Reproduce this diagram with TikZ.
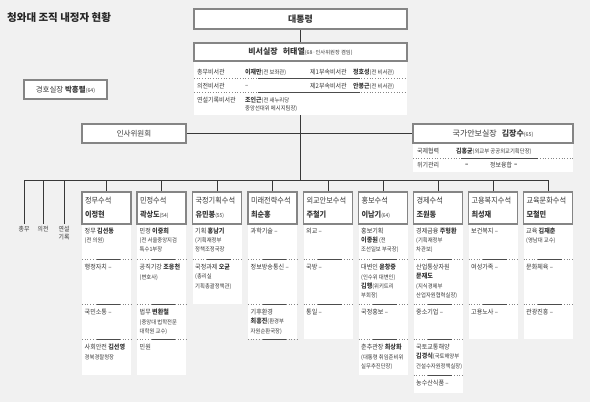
\documentclass[tikz,border=0pt]{standalone}
\usepackage{fontspec}
\setmainfont{Noto Sans CJK KR}
\newfontfamily\cellfont{Noto Sans CJK KR}[FakeStretch=0.92]
\usetikzlibrary{calc}

\definecolor{bggray}{HTML}{F1F1F1}
\definecolor{boxgray}{HTML}{858585}
\definecolor{txt}{HTML}{383838}

\newcommand{\nm}[1]{{\bfseries #1}}
\newcommand{\sm}[1]{{\fontsize{5.3}{6}\selectfont #1}}
\newcommand{\pr}[1]{{\fontsize{5.8}{6}\selectfont #1}}
\newcommand{\sepline}[3]{%
  \draw[sepdot] (#1,#3) -- (#2,#3);
  \draw[sepbar] ($(#1,#3)!0.3!(#2,#3)$) -- ($(#1,#3)!0.78!(#2,#3)$);}
\newcommand{\colpanel}[2]{\fill[white] (#1-24.5,224) rectangle (#1+24.5,#2);}
\newcommand{\cell}[4]{\node[celltxt] (#1) at (#2-22,#3+5) {#4};}

\begin{document}
\begin{tikzpicture}[x=1pt, y=-1pt,
    topbox/.style={draw=boxgray, line width=1.4pt, fill=white, text=txt, inner sep=0pt},
    colbox/.style={topbox, minimum width=49pt, minimum height=32pt, text width=43pt,
      align=left, font=\cellfont\fontsize{7.8}{14}\selectfont},
    celltxt/.style={anchor=north west, inner sep=0pt, align=left, text=txt,
      font=\cellfont\fontsize{6.6}{9.3}\selectfont},
    rowtxt/.style={anchor=west, inner sep=0pt, text=txt, font=\cellfont\fontsize{6.5}{8}\selectfont},
    leaf/.style={anchor=north, inner sep=2pt, align=center, text=txt, font=\cellfont\fontsize{6.4}{8.5}\selectfont},
    link/.style={draw=txt, line width=1pt},
    sepdot/.style={boxgray, dotted, line width=0.7pt},
    sepbar/.style={txt!90, line width=0.9pt}]

\fill[bggray] (0,0) rectangle (590,402);
\useasboundingbox (0,0) rectangle (590,402);

\node[anchor=west, inner sep=0pt, text=black!85, font=\bfseries\fontsize{10.5}{12}\selectfont] (title) at (7,18) {청와대 조직 내정자 현황};

% president and chief of staff
\node[topbox, minimum width=213pt, minimum height=20pt, font=\bfseries\fontsize{9}{10}\selectfont] (pres) at (300.5,19) {대통령};
\fill[white] (194,61) rectangle (407,115);
\node[topbox, minimum width=213pt, minimum height=18pt, font=\fontsize{8}{9}\selectfont] (chief) at (300.5,52)
  {\nm{비서실장}\hspace{5pt}\nm{허태열}\sm{(68·인사위원장 겸임)}};
\coordinate (chiefbot) at (300.5,115);

\node[rowtxt] (r1a) at (197,72) {총무비서관};
\node[rowtxt] (r1b) at (245,72) {\nm{이재만}\pr{(전 보좌관)}};
\node[rowtxt] (r1c) at (310,72) {제1부속비서관};
\node[rowtxt] (r1d) at (353,72) {\nm{정호성}\pr{(전 비서관)}};
\sepline{194}{407}{78}
\node[rowtxt] (r2a) at (197,86) {의전비서관};
\node[rowtxt] (r2b) at (245,86) {–};
\node[rowtxt] (r2c) at (310,86) {제2부속비서관};
\node[rowtxt] (r2d) at (353,86) {\nm{안봉근}\pr{(전 비서관)}};
\sepline{194}{407}{92}
\node[rowtxt] (r3a) at (197,100) {연설기록비서관};
\node[rowtxt] (r3b) at (245,100) {\nm{조인근}\pr{(전 새누리당}};
\node[rowtxt] (r3c) at (245,109) {\pr{중앙선대위 메시지팀장)}};

% side offices
\node[topbox, minimum width=83pt, minimum height=19pt, font=\fontsize{7.5}{9}\selectfont] (guard) at (65.5,89.5)
  {경호실장 \nm{박흥렬}\sm{(64)}};
\node[topbox, minimum width=104pt, minimum height=19pt, font=\fontsize{7.5}{9}\selectfont] (hr) at (134,133.5) {인사위원회};
\fill[white] (413,143) rectangle (573,172);
\node[topbox, minimum width=160pt, minimum height=19pt, font=\fontsize{8}{9}\selectfont] (nsa) at (493,133.5)
  {국가안보실장\hspace{5pt}\nm{김장수}\sm{(65)}};
\node[rowtxt] (n1a) at (417,151) {국제협력};
\node[rowtxt] (n1b) at (456,151) {\nm{김홍균}\pr{(외교부 공공외교기획단장)}};
\sepline{413}{573}{158}
\node[rowtxt] (n2a) at (417,165) {위기관리};
\node[rowtxt] (n2b) at (465,165) {\nm{–}};
\node[rowtxt] (n2c) at (490,165) {정보융합};
\node[rowtxt] (n2d) at (514,165) {\nm{–}};

% senior secretaries
\colpanel{106.5}{375}
\colpanel{161.5}{375}
\colpanel{217}{304}
\colpanel{272.5}{339}
\colpanel{328}{339}
\colpanel{383}{375}
\colpanel{438}{393}
\colpanel{493}{339}
\colpanel{548}{339}

\node[colbox] (c1) at (106.5,208) {정무수석\\\nm{이정현}};
\node[colbox] (c2) at (161.5,208) {민정수석\\\nm{곽상도}\sm{(54)}};
\node[colbox] (c3) at (217,208) {국정기획수석\\\nm{유민봉}\sm{(55)}};
\node[colbox] (c4) at (272.5,208) {미래전략수석\\\nm{최순홍}};
\node[colbox] (c5) at (328,208) {외교안보수석\\\nm{주철기}};
\node[colbox] (c6) at (383,208) {홍보수석\\\nm{이남기}\sm{(64)}};
\node[colbox] (c7) at (438,208) {경제수석\\\nm{조원동}};
\node[colbox] (c8) at (493,208) {고용복지수석\\\nm{최성재}};
\node[colbox] (c9) at (548,208) {교육문화수석\\\nm{모철민}};

\foreach \x/\b in {106.5/339, 161.5/339, 217/259, 272.5/339, 328/304, 383/339, 438/375, 493/304, 548/304} {
  \foreach \y in {259,304,339,375} {
    \ifdim\y pt>\b pt\else \sepline{\x-24.5}{\x+24.5}{\y}\fi
  }
}

\cell{c1a}{106.5}{222.5}{정무 \nm{김선동}\\\pr{(전 의원)}}
\cell{c1b}{106.5}{259}{행정자치 –}
\cell{c1c}{106.5}{304}{국민소통 –}
\cell{c1d}{106.5}{339}{사회안전 \nm{김선영}\\\pr{경북경찰청장}}

\cell{c2a}{161.5}{222.5}{민정 \nm{이중희}\\\pr{(전 서울중앙지검}\\\pr{특수1부장}}
\cell{c2b}{161.5}{259}{공직기강 \nm{조응천}\\\pr{(변호사)}}
\cell{c2c}{161.5}{304}{법무 \nm{변환철}\\\pr{(중앙대 법학전문}\\\pr{대학원 교수)}}
\cell{c2d}{161.5}{339}{민원}

\cell{c3a}{217}{222.5}{기획 \nm{홍남기}\\\pr{(기획재정부}\\\pr{정책조정국장}}
\cell{c3b}{217}{259}{국정과제 \nm{오균}\\\pr{(총리실}\\\pr{기획총괄정책관)}}

\cell{c4a}{272.5}{222.5}{과학기술 –}
\cell{c4b}{272.5}{259}{정보방송통신 –}
\cell{c4c}{272.5}{304}{기후환경\\\nm{최흥진}\pr{(환경부}\\\pr{자원순환국장)}}

\cell{c5a}{328}{222.5}{외교 –}
\cell{c5b}{328}{259}{국방 –}
\cell{c5c}{328}{304}{통일 –}

\cell{c6a}{383}{222.5}{홍보기획\\\nm{이종원}\pr{ (전}\\\pr{조선일보 부국장)}}
\cell{c6b}{383}{259}{대변인 \nm{윤창중}\\\pr{(인수위 대변인)}\\\nm{김행}\pr{(위키트리}\\\pr{부회장)}}
\cell{c6c}{383}{304}{국정홍보 –}
\cell{c6d}{383}{339}{춘추관장 \nm{최상화}\\\pr{(대통령 취임준비위}\\\pr{실무추진단장)}}

\cell{c7a}{438}{222.5}{경제금융 \nm{주형환}\\\pr{(기획재정부}\\\pr{차관보)}}
\cell{c7b}{438}{259}{산업통상자원\\\nm{문재도}\\\pr{(지식경제부}\\\pr{산업자원협력실장)}}
\cell{c7c}{438}{304}{중소기업 –}
\cell{c7d}{438}{339}{국토교통해양\\\nm{김경식}\pr{(국토해양부}\\\pr{건설수자원정책실장)}}
\cell{c7e}{438}{375}{농수산식품 –}

\cell{c8a}{493}{222.5}{보건복지 –}
\cell{c8b}{493}{259}{여성가족 –}
\cell{c8c}{493}{304}{고용노사 –}

\cell{c9a}{548}{222.5}{교육 \nm{김재춘}\\\pr{(영남대 교수)}}
\cell{c9b}{548}{259}{문화체육 –}
\cell{c9c}{548}{304}{관광진흥 –}

% secretaries without a senior secretary
\node[leaf] (t1) at (24,224) {총무};
\node[leaf] (t2) at (43,224) {의전};
\node[leaf] (t3) at (64,224) {연설\\기록};

% connectors
\coordinate (busmid) at (300.5,180);
\draw[link] (pres) -- (chief);
\draw[link] (chiefbot) -- (busmid);
\draw[link] (hr) -- (nsa);
\draw[link] (t1.north |- busmid) -- (c9.north |- busmid);
\foreach \n in {t1,t2,t3,c1,c2,c3,c4,c5,c6,c7,c8,c9}
  \draw[link] (\n.north |- busmid) -- (\n.north);
\end{tikzpicture}
\end{document}
